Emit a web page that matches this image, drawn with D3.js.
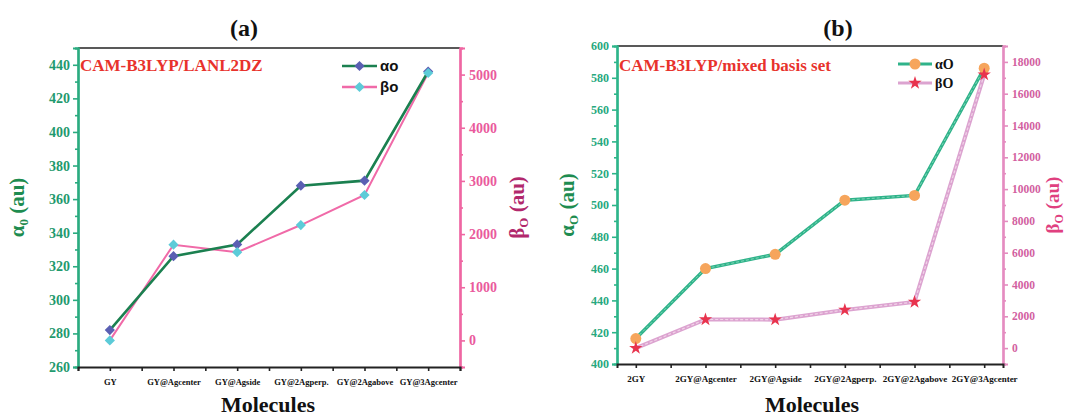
<!DOCTYPE html>
<html><head><meta charset="utf-8">
<script src="https://cdn.jsdelivr.net/npm/d3@7"></script>
<style>
body{margin:0;background:#fff;}
svg{display:block;}
text{font-family:"Liberation Serif","Times New Roman",serif;font-weight:bold;}
</style></head>
<body>
<svg id="chart" width="1069" height="416"></svg>
<script>
// ---- data ----
const categoriesA = ["GY","GY@Agcenter","GY@Agside","GY@2Agperp.","GY@2Agabove","GY@3Agcenter"];
const alphaA = [282, 326, 333, 368, 371, 436];
const betaA  = [0, 1800, 1660, 2170, 2735, 5030];
const alphaTicksA = [260,280,300,320,340,360,380,400,420,440];
const betaTicksA  = [0,1000,2000,3000,4000,5000];

const categoriesB = ["2GY","2GY@Agcenter","2GY@Agside","2GY@2Agperp.","2GY@2Agabove","2GY@3Agcenter"];
const alphaB = [416, 460, 469, 503, 506, 586];
const betaB  = [0, 1800, 1790, 2400, 2900, 17200];
const alphaTicksB = [400,420,440,460,480,500,520,540,560,580,600];
const betaTicksB  = [0,2000,4000,6000,8000,10000,12000,14000,16000,18000];

const svg = d3.select("#chart");
const fmt = d3.format("d");

function drawPanel(p){
  const g = svg.append("g");
  const x = d3.scaleLinear().domain(p.xDomain).range([p.left, p.right]);
  const yL = d3.scaleLinear().domain(p.yLDomain).range([p.bottom, p.top]);
  const yR = d3.scaleLinear().domain(p.yRDomain).range([p.bottom, p.top]);

  g.append("line").attr("x1",p.left).attr("x2",p.right).attr("y1",p.top).attr("y2",p.top)
    .attr("stroke","#222").attr("stroke-width",1.5);

  function minor(major){
    const out=[]; const d=major[1]-major[0];
    const lo = major[0]-d/2, hi = major[major.length-1]+d/2;
    for(let v=lo; v<=hi+1e-9; v+=d/2){ if(!major.some(m=>Math.abs(m-v)<1e-9)) out.push(v); }
    return out;
  }

  const la = g.append("g").attr("transform",`translate(${p.left},0)`)
    .call(d3.axisLeft(yL).tickValues(p.alphaTicks).tickFormat(fmt).tickSize(5).tickPadding(3));
  la.append("g").call(d3.axisLeft(yL).tickValues(minor(p.alphaTicks).filter(v=>v>=p.yLDomain[0]&&v<=p.yLDomain[1])).tickSize(3).tickFormat(""));
  la.selectAll("path,line").attr("stroke",p.lAxisColor).attr("stroke-width",1.6);
  la.selectAll(".domain").attr("stroke-width",2.2);
  la.selectAll("text").attr("fill",p.lLabelColor).style("font-size",p.lFont+"px");

  const ra = g.append("g").attr("transform",`translate(${p.right},0)`)
    .call(d3.axisRight(yR).tickValues(p.betaTicks).tickFormat(fmt).tickSize(5).tickPadding(4));
  ra.append("g").call(d3.axisRight(yR).tickValues(minor(p.betaTicks).filter(v=>v>=p.yRDomain[0]&&v<=p.yRDomain[1])).tickSize(3).tickFormat(""));
  ra.selectAll("path,line").attr("stroke",p.rAxisColor).attr("stroke-width",1.6);
  ra.selectAll(".domain").attr("stroke-width",2.2);
  ra.selectAll("text").attr("fill",p.rLabelColor).style("font-size",p.rFont+"px");

  const xt=[]; for(let v=p.xTickStart; v<=p.xTickEnd+1e-9; v+=0.5) xt.push(v);
  const ba = g.append("g").attr("transform",`translate(0,${p.bottom})`)
    .call(d3.axisBottom(x).tickValues(xt).tickSize(4).tickPadding(8)
      .tickFormat(v=>Number.isInteger(v)? p.categories[v-1] : ""));
  ba.selectAll("path,line").attr("stroke","#222").attr("stroke-width",1.6);
  ba.selectAll(".domain").attr("stroke-width",2);
  ba.selectAll("text").attr("fill","#111").style("font-size",p.xFont+"px");

  const lineA = d3.line().x((d,i)=>x(i+1)).y(d=>yL(d));
  const lineB = d3.line().x((d,i)=>x(i+1)).y(d=>yR(d));

  if(p.style==="a"){
    g.append("path").datum(p.beta).attr("d",lineB).attr("fill","none").attr("stroke",p.betaColor).attr("stroke-width",2);
    g.append("path").datum(p.alpha).attr("d",lineA).attr("fill","none").attr("stroke",p.alphaColor).attr("stroke-width",2.6);
    const sq = d3.symbol(d3.symbolSquare).size(52);
    g.selectAll(".ma").data(p.alpha).join("path").attr("d",sq)
      .attr("transform",(d,i)=>`translate(${x(i+1)},${yL(d)}) rotate(45)`).attr("fill",p.alphaMarker);
    g.selectAll(".mb").data(p.beta).join("path").attr("d",sq)
      .attr("transform",(d,i)=>`translate(${x(i+1)},${yR(d)}) rotate(45)`).attr("fill",p.betaMarker);
  } else {
    g.append("path").datum(p.beta).attr("d",lineB).attr("fill","none").attr("stroke",p.betaColor).attr("stroke-width",4);
    g.append("path").datum(p.beta).attr("d",lineB).attr("fill","none").attr("stroke","#f1d4e8").attr("stroke-width",1.2).attr("stroke-dasharray","3,2");
    g.append("path").datum(p.alpha).attr("d",lineA).attr("fill","none").attr("stroke",p.alphaColor).attr("stroke-width",3.4);
    g.append("path").datum(p.alpha).attr("d",lineA).attr("fill","none").attr("stroke","#7fd6b8").attr("stroke-width",1).attr("stroke-dasharray","3,2");
    g.selectAll(".ma").data(p.alpha).join("circle").attr("cx",(d,i)=>x(i+1)).attr("cy",d=>yL(d)).attr("r",5.5).attr("fill",p.alphaMarker);
    const st = d3.symbol(d3.symbolStar).size(55);
    g.selectAll(".mb").data(p.beta).join("path").attr("d",st)
      .attr("transform",(d,i)=>`translate(${x(i+1)},${yR(d)})`).attr("fill",p.betaMarker);
  }

  g.append("text").attr("x",p.titleX).attr("y",36).attr("text-anchor","middle")
    .style("font-size","24px").attr("fill","#111").text(p.title);
  g.append("text").attr("x",p.annX).attr("y",71).style("font-size",p.annFont+"px")
    .attr("fill","#e8322c").text(p.ann);

  const lg = g.append("g");
  [[p.alphaColor,p.alphaMarker,p.legA,p.legY[0]],[p.betaColor,p.betaMarker,p.legB,p.legY[1]]].forEach((r,k)=>{
    lg.append("line").attr("x1",p.legX[0]).attr("x2",p.legX[1]).attr("y1",r[3]).attr("y2",r[3])
      .attr("stroke",r[0]).attr("stroke-width",p.style==="a"?2.6:3.2);
    const mx=(p.legX[0]+p.legX[1])/2;
    if(p.style==="a"){
      lg.append("path").attr("d",d3.symbol(d3.symbolSquare).size(52)).attr("transform",`translate(${mx},${r[3]}) rotate(45)`).attr("fill",r[1]);
    } else if(k===0){
      lg.append("circle").attr("cx",mx).attr("cy",r[3]).attr("r",5.5).attr("fill",r[1]);
    } else {
      lg.append("path").attr("d",d3.symbol(d3.symbolStar).size(55)).attr("transform",`translate(${mx},${r[3]})`).attr("fill",r[1]);
    }
    lg.append("text").attr("x",p.legX[1]+3).attr("y",r[3]+5).style("font-size",p.legFont+"px")
      .style("font-family",p.style==="a"?"'Liberation Sans',Arial,sans-serif":null).attr("fill","#111").text(r[2]);
  });

  const midY = (p.top+p.bottom)/2;
  function axTitle(tx, color, main, sub, fs){
    const t = g.append("text").attr("transform",`translate(${tx},${midY}) rotate(-90)`)
      .attr("text-anchor","middle").style("font-size",fs+"px").attr("fill",color);
    t.append("tspan").text(main);
    t.append("tspan").attr("dy",4).style("font-size",Math.round(fs*0.62)+"px").text(sub);
    t.append("tspan").attr("dy",-4).text(" (au)");
  }
  axTitle(p.lTitleX, p.lTitleColor, p.lTitleMain, p.lTitleSub, p.lTitleFont);
  axTitle(p.rTitleX, p.rTitleColor, p.rTitleMain, p.rTitleSub, p.rTitleFont);

  g.append("text").attr("x",p.molX).attr("y",412).attr("text-anchor","middle")
    .style("font-size","22px").attr("fill","#111").text("Molecules");
}

drawPanel({
  style:"a", categories:categoriesA, alpha:alphaA, beta:betaA,
  alphaTicks:alphaTicksA, betaTicks:betaTicksA,
  left:78, right:460, top:48, bottom:367,
  xDomain:[0.5,6.5], xTickStart:0.5, xTickEnd:6.5,
  yLDomain:[260,450], yRDomain:[-500,5500],
  lAxisColor:"#2bab80", lLabelColor:"#1f9a6e", lFont:14,
  rAxisColor:"#ef66a2", rLabelColor:"#ea5a9c", rFont:14, xFont:8.5,
  alphaColor:"#1b8050", alphaMarker:"#5a5fb3", betaColor:"#f06aa8", betaMarker:"#5ccbd8",
  title:"(a)", titleX:244, ann:"CAM-B3LYP/LANL2DZ", annX:80, annFont:17,
  legX:[342,377], legY:[66,87], legA:"αo", legB:"βo", legFont:15,
  lTitleX:24, lTitleColor:"#1e8c50", lTitleMain:"α", lTitleSub:"0", lTitleFont:21,
  rTitleX:524, rTitleColor:"#b2286c", rTitleMain:"β", rTitleSub:"O", rTitleFont:21,
  molX:268
});

drawPanel({
  style:"b", categories:categoriesB, alpha:alphaB, beta:betaB,
  alphaTicks:alphaTicksB, betaTicks:betaTicksB,
  left:617, right:1003, top:46, bottom:364,
  xDomain:[0.73,6.27], xTickStart:1, xTickEnd:6,
  yLDomain:[400,600], yRDomain:[-1000,19000],
  lAxisColor:"#2db58a", lLabelColor:"#27a87e", lFont:12,
  rAxisColor:"#e48cc0", rLabelColor:"#d2609f", rFont:11.5, xFont:9,
  alphaColor:"#2fb38a", alphaMarker:"#f6a55c", betaColor:"#dca3d0", betaMarker:"#e8334d",
  title:"(b)", titleX:838, ann:"CAM-B3LYP/mixed basis set", annX:619, annFont:17,
  legX:[898,932], legY:[64,83], legA:"αO", legB:"βO", legFont:14,
  lTitleX:574, lTitleColor:"#1e8c50", lTitleMain:"α", lTitleSub:"O", lTitleFont:21,
  rTitleX:1059, rTitleColor:"#e0407f", rTitleMain:"β", rTitleSub:"O", rTitleFont:19,
  molX:812
});
</script>
</body></html>
